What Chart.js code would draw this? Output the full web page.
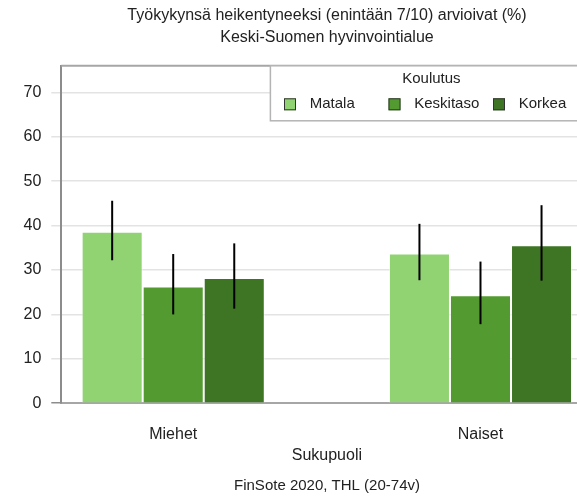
<!DOCTYPE html>
<html>
<head>
<meta charset="utf-8">
<script src="https://cdn.jsdelivr.net/npm/chart.js@4/dist/chart.umd.min.js"></script>
<style>
    html, body { margin: 0; padding: 0; overflow: hidden; background: #fff; }
    #chart { display: block; }
</style>
</head>
<body>
<canvas id="chart" width="654" height="500"></canvas>
<script>
// Data
const categories = ['Miehet', 'Naiset'];
const seriesNames = ['Matala', 'Keskitaso', 'Korkea'];
const matala = [38.6, 33.7];
const keskitaso = [26.3, 24.3];
const korkea = [28.2, 35.6];
const matalaLow = [32.2, 27.7];
const matalaHigh = [45.6, 40.4];
const keskitasoLow = [20.0, 17.8];
const keskitasoHigh = [33.6, 31.9];
const korkeaLow = [21.3, 27.6];
const korkeaHigh = [36.0, 44.6];
const yTicks = [0, 10, 20, 30, 40, 50, 60, 70];

const titleLines = ['Työkykynsä heikentyneeksi (enintään 7/10) arvioivat (%)', 'Keski-Suomen hyvinvointialue'];
const xTitle = 'Sukupuoli';
const legendTitle = 'Koulutus';
const sourceText = 'FinSote 2020, THL (20-74v)';

const colors = ['#91d373', '#539b30', '#3e7524'];
const fontFamily = '"Liberation Sans", Arial, sans-serif';
const textColor = '#222';

const values = [matala, keskitaso, korkea];
const lows = [matalaLow, keskitasoLow, korkeaLow];
const highs = [matalaHigh, keskitasoHigh, korkeaHigh];

// error bars drawn through the y scale
const errorBars = {
    id: 'errorBars',
    afterDatasetsDraw(chart) {
        const ctx = chart.ctx;
        const y = chart.scales.y;
        ctx.save();
        ctx.strokeStyle = '#000';
        ctx.lineWidth = 2;
        chart.data.datasets.forEach((ds, i) => {
            const meta = chart.getDatasetMeta(i);
            meta.data.forEach((bar, j) => {
                ctx.beginPath();
                ctx.moveTo(bar.x, y.getPixelForValue(ds.low[j]));
                ctx.lineTo(bar.x, y.getPixelForValue(ds.high[j]));
                ctx.stroke();
            });
        });
        ctx.restore();
    }
};

// top frame line and the boxed legend inside the plot
const frameAndLegend = {
    id: 'frameAndLegend',
    afterDraw(chart) {
        const ctx = chart.ctx;
        const area = chart.chartArea;
        ctx.save();
        ctx.strokeStyle = '#a6a6a6';
        ctx.lineWidth = 2;
        ctx.beginPath();
        ctx.moveTo(area.left, area.top);
        ctx.lineTo(area.right, area.top);
        ctx.stroke();

        const boxW = 322, boxH = 55;
        const bx = area.right - boxW, by = area.top;
        ctx.fillStyle = '#fff';
        ctx.fillRect(bx, by, boxW, boxH);
        ctx.strokeStyle = '#b4b4b4';
        ctx.lineWidth = 1.5;
        ctx.strokeRect(bx, by, boxW, boxH);

        ctx.fillStyle = textColor;
        ctx.font = '15px ' + fontFamily;
        ctx.textAlign = 'center';
        ctx.textBaseline = 'middle';
        ctx.fillText(legendTitle, bx + boxW / 2, by + 13.5);

        ctx.textAlign = 'left';
        chart.data.datasets.forEach((ds, i) => {
            const ix = bx + 13.6 + i * 104.5;
            const iy = by + 38.5;
            ctx.fillStyle = ds.backgroundColor;
            ctx.fillRect(ix, iy - 6, 12, 12);
            ctx.strokeStyle = '#333';
            ctx.lineWidth = 1;
            ctx.strokeRect(ix + 0.5, iy - 5.5, 11, 11);
            ctx.fillStyle = textColor;
            ctx.fillText(ds.label, ix + 25.7, iy);
        });
        ctx.restore();
    }
};

const datasets = seriesNames.map((name, i) => ({
    label: name,
    data: values[i].map((v, j) => ({ x: j, y: v })),
    low: lows[i],
    high: highs[i],
    backgroundColor: colors[i],
    borderColor: 'rgba(255, 255, 255, 0.55)',
    borderWidth: 1
}));

new Chart(document.getElementById('chart'), {
    type: 'bar',
    data: {
        datasets: datasets
    },
    plugins: [errorBars, frameAndLegend],
    options: {
        responsive: false,
        animation: false,
        categoryPercentage: 0.596,
        barPercentage: 1,
        layout: {
            padding: 0
        },
        plugins: {
            legend: { display: false },
            tooltip: { enabled: false },
            title: {
                display: true,
                text: titleLines,
                color: textColor,
                font: { family: fontFamily, size: 16, weight: 'normal', lineHeight: 1.4 },
                padding: { top: 4, bottom: 17 }
            },
            subtitle: {
                display: true,
                position: 'bottom',
                text: sourceText,
                color: textColor,
                font: { family: fontFamily, size: 15, weight: 'normal', lineHeight: 1.2 },
                padding: { top: 12, bottom: 5 }
            }
        },
        scales: {
            x: {
                type: 'linear',
                offset: false,
                min: -0.3642,
                max: 1.3642,
                afterBuildTicks(scale) {
                    scale.ticks = categories.map((c, i) => ({ value: i }));
                },
                grid: { display: false, drawTicks: false, offset: false },
                border: { display: true, color: '#a6a6a6', width: 2 },
                ticks: {
                    color: textColor,
                    font: { family: fontFamily, size: 16 },
                    padding: 21.7,
                    maxRotation: 0,
                    callback: (value) => categories[value]
                },
                title: {
                    display: true,
                    text: xTitle,
                    color: textColor,
                    font: { family: fontFamily, size: 16, lineHeight: 1.2 },
                    padding: { top: -20, bottom: 0 }
                }
            },
            y: {
                min: 0,
                max: 76,
                afterBuildTicks(scale) {
                    scale.ticks = yTicks.map(v => ({ value: v }));
                },
                afterFit(scale) {
                    scale.width = 61.3;
                },
                grid: {
                    color: '#e3e3e3',
                    lineWidth: 1.5,
                    tickLength: 10,
                    tickColor: (c) => c.tick && c.tick.value === 0 ? '#8c8c8c' : '#e3e3e3'
                },
                border: { display: true, color: '#8c8c8c', width: 2 },
                ticks: {
                    color: textColor,
                    font: { family: fontFamily, size: 16 },
                    padding: 10
                }
            },
            // empty right-hand space so the plot runs past the window edge
            yRight: {
                position: 'right',
                min: 0,
                max: 76,
                grid: { display: false, drawTicks: false },
                border: { display: false },
                ticks: { display: false },
                afterFit(scale) {
                    scale.width = 61.6;
                }
            }
        }
    }
});
</script>
</body>
</html>
